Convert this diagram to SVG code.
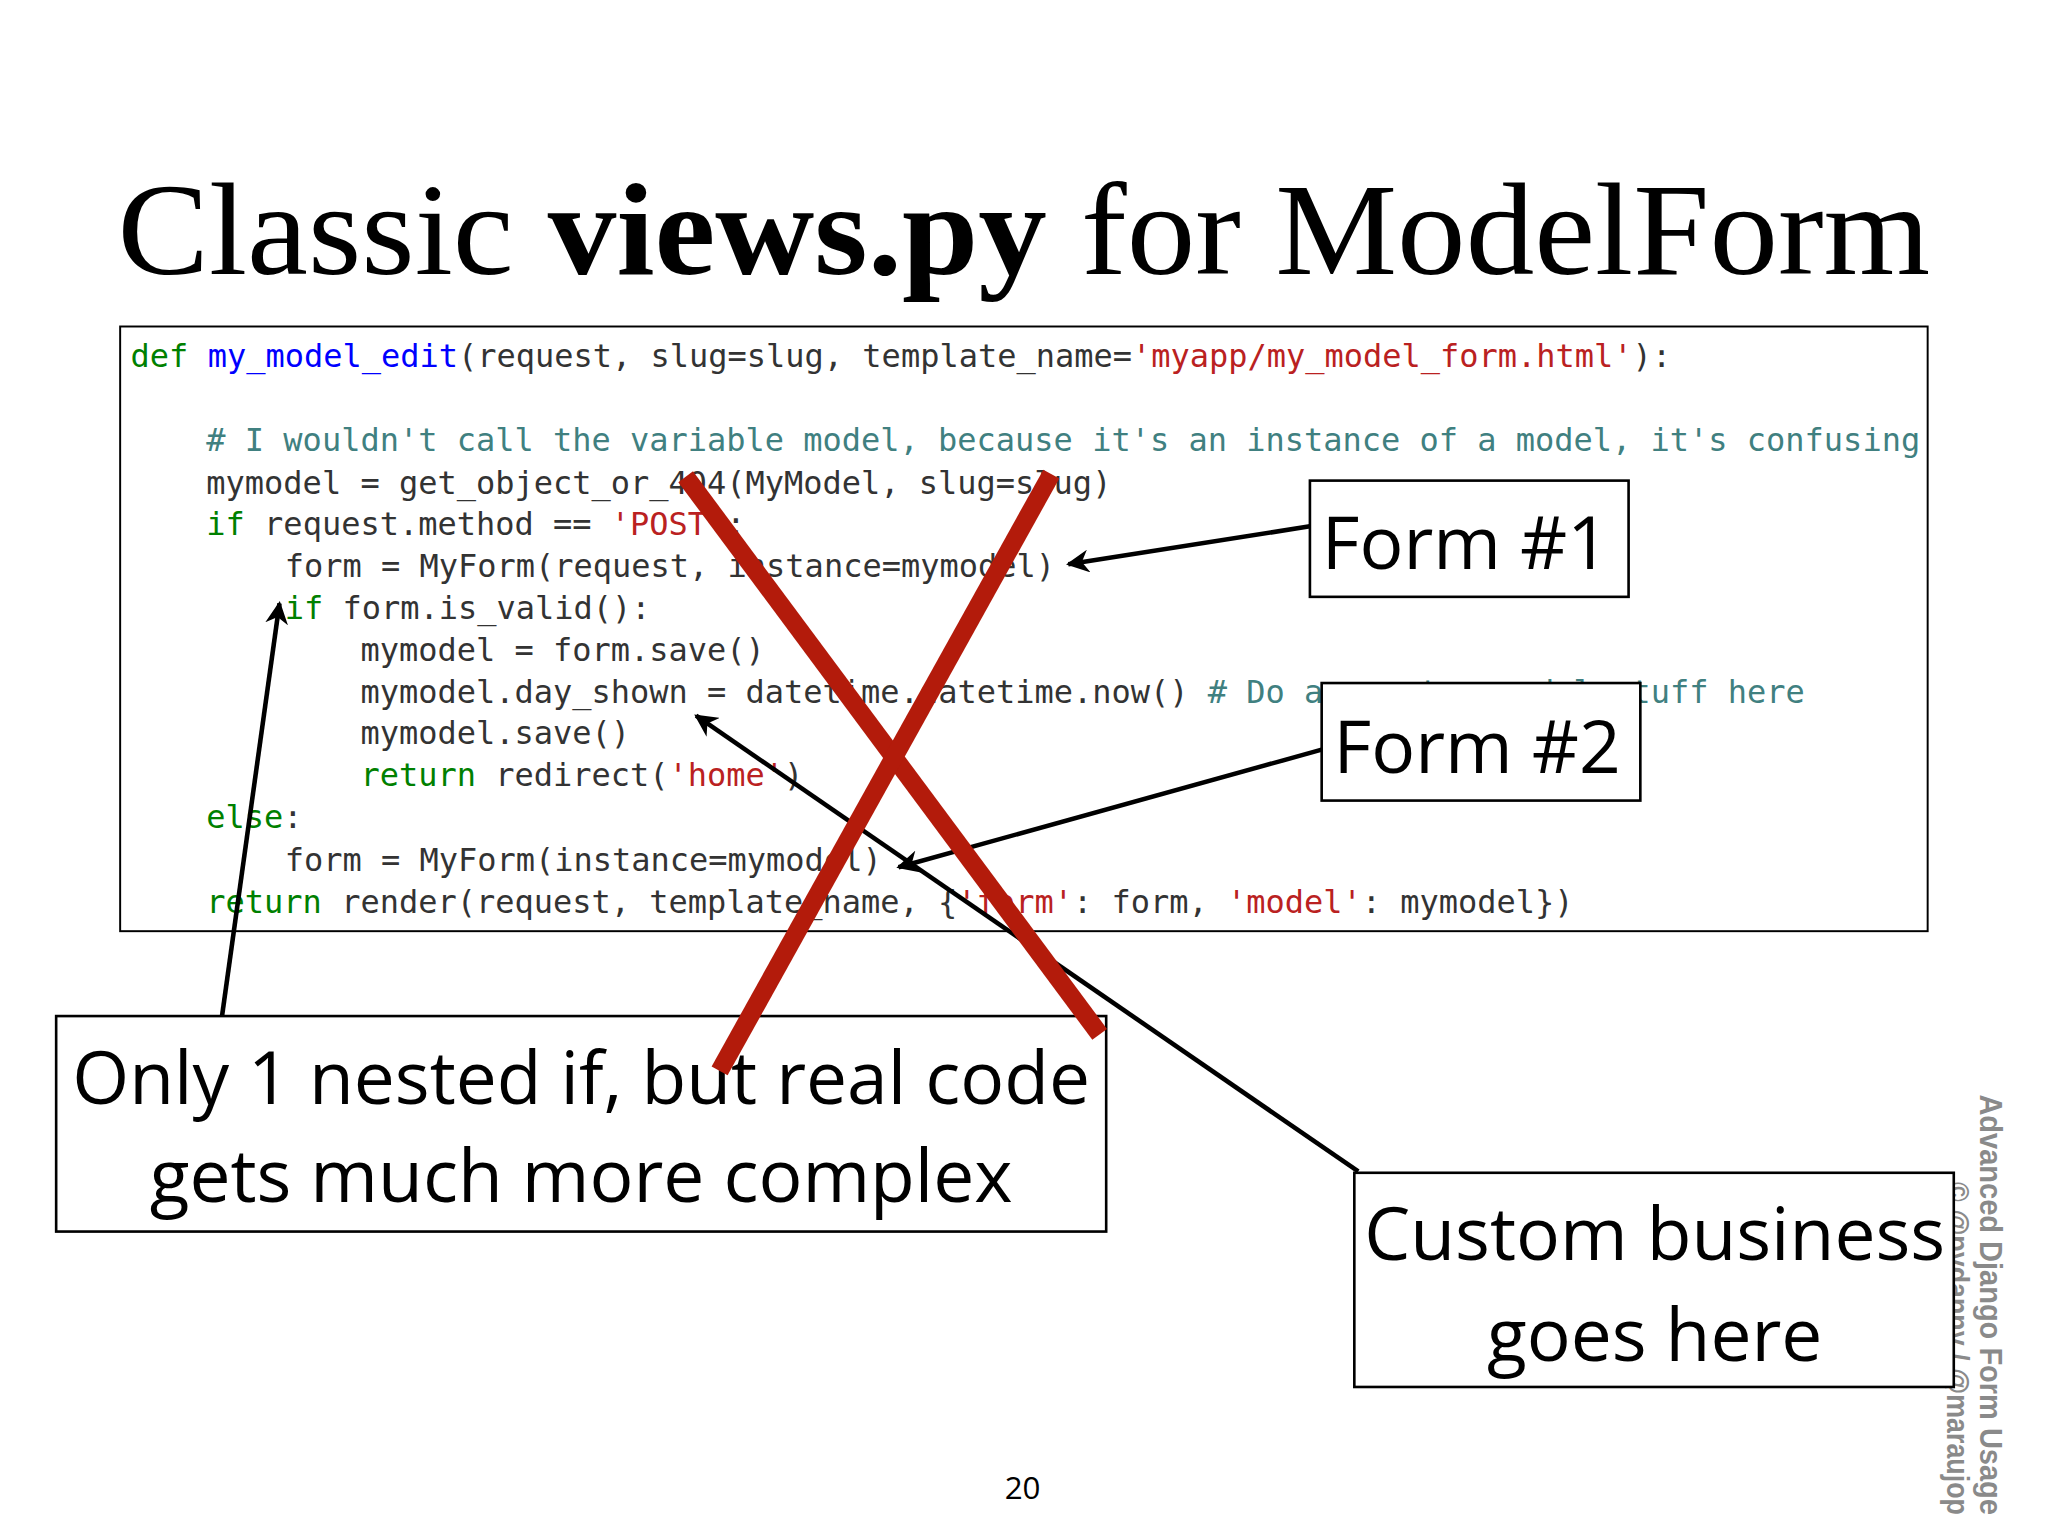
<svg xmlns="http://www.w3.org/2000/svg" width="2048" height="1536" viewBox="0 0 2048 1536">
<defs>
<style>
.code{font-family:"DejaVu Sans Mono",monospace;font-size:24.5px;fill:#333;white-space:pre}
.k{fill:#008000}.f{fill:#0000ff}.s{fill:#ba2121}.c{fill:#408080}
.box{fill:#fff;stroke:#000;stroke-width:2}
.lbl{font-family:"Open Sans","DejaVu Sans",sans-serif;font-size:56px;fill:#000}
.arr{stroke:#000;stroke-width:3.5;fill:none;marker-end:url(#ah)}
.x{stroke:#b31b0b;stroke-width:14;stroke-linecap:butt}
.side{font-family:"Liberation Sans",sans-serif;font-weight:bold;font-size:24px;fill:#8a8a8a}
</style>
<marker id="ah" viewBox="0 0 10 10" refX="9" refY="5" markerWidth="5" markerHeight="5" orient="auto" markerUnits="strokeWidth"><path d="M0,0 L10,5 L0,10 L3,5 z" fill="#000"/></marker>
</defs>
<rect width="2048" height="1536" fill="#fff"/>
<g transform="scale(1.306)">
<text x="90" y="210" textLength="1388" lengthAdjust="spacingAndGlyphs" font-family="Liberation Serif,serif" font-size="100" fill="#000">Classic <tspan font-weight="bold">views.py</tspan> for ModelForm</text>
<g id="code">
<rect x="92" y="250" width="1384" height="463" fill="#fff" stroke="#000" stroke-width="1.5"/>
<text class="code" x="100" y="281"><tspan class="k">def</tspan> <tspan class="f">my_model_edit</tspan>(request, slug=slug, template_name=<tspan class="s">'myapp/my_model_form.html'</tspan>):</text>
<text class="code c" x="158" y="345"># I wouldn't call the variable model, because it's an instance of a model, it's confusing</text>
<text class="code" x="158" y="378">mymodel = get_object_or_404(MyModel, slug=slug)</text>
<text class="code" x="158" y="410"><tspan class="k">if</tspan> request.method == <tspan class="s">'POST'</tspan>:</text>
<text class="code" x="218" y="442">form = MyForm(request, instance=mymodel)</text>
<text class="code" x="218" y="474"><tspan class="k">if</tspan> form.is_valid():</text>
<text class="code" x="276" y="506">mymodel = form.save()</text>
<text class="code" x="276" y="538">mymodel.day_shown = datetime.datetime.now() <tspan class="c"># Do any extra model stuff here</tspan></text>
<text class="code" x="276" y="570">mymodel.save()</text>
<text class="code" x="276" y="602"><tspan class="k">return</tspan> redirect(<tspan class="s">'home'</tspan>)</text>
<text class="code" x="158" y="634"><tspan class="k">else</tspan>:</text>
<text class="code" x="218" y="667">form = MyForm(instance=mymodel)</text>
<text class="code" x="158" y="699"><tspan class="k">return</tspan> render(request, template_name, {<tspan class="s">'form'</tspan>: form, <tspan class="s">'model'</tspan>: mymodel})</text>
</g>
<g id="side">
<text class="side" transform="translate(1516,838) rotate(90)" textLength="322" lengthAdjust="spacingAndGlyphs">Advanced Django Form Usage</text>
<text class="side" transform="translate(1491,905) rotate(90)" textLength="255" lengthAdjust="spacingAndGlyphs">© @pydanny / @maraujop</text>
</g>
<g id="form1"><rect class="box" x="1003" y="368" width="244" height="89"/><text class="lbl" x="1012" y="436">Form #1</text></g>
<g id="form2"><rect class="box" x="1012" y="523" width="244" height="90"/><text class="lbl" x="1021" y="592">Form #2</text></g>
<g id="nested"><rect class="box" x="43" y="778" width="804" height="165"/>
<text class="lbl" x="445" y="845" text-anchor="middle">Only 1 nested if, but real code</text>
<text class="lbl" x="445" y="920" text-anchor="middle">gets much more complex</text></g>
<g id="custom"><rect class="box" x="1037" y="898" width="459" height="164"/>
<text class="lbl" x="1267" y="965" text-anchor="middle">Custom business</text>
<text class="lbl" x="1267" y="1042" text-anchor="middle">goes here</text></g>
<g id="connectors">
<line class="arr" x1="1003" y1="403" x2="818" y2="432"/>
<line class="arr" x1="1012" y1="574" x2="688" y2="664"/>
<line class="arr" x1="170" y1="778" x2="214" y2="462"/>
<line class="arr" x1="1040" y1="897" x2="533" y2="548"/>
</g>
<g id="cross">
<line class="x" x1="525" y1="365" x2="842" y2="792"/>
<line class="x" x1="805" y1="363" x2="551" y2="820"/>
</g>
<text x="783" y="1148" text-anchor="middle" font-family="Open Sans,sans-serif" font-size="24" fill="#000">20</text>
</g>
</svg>
